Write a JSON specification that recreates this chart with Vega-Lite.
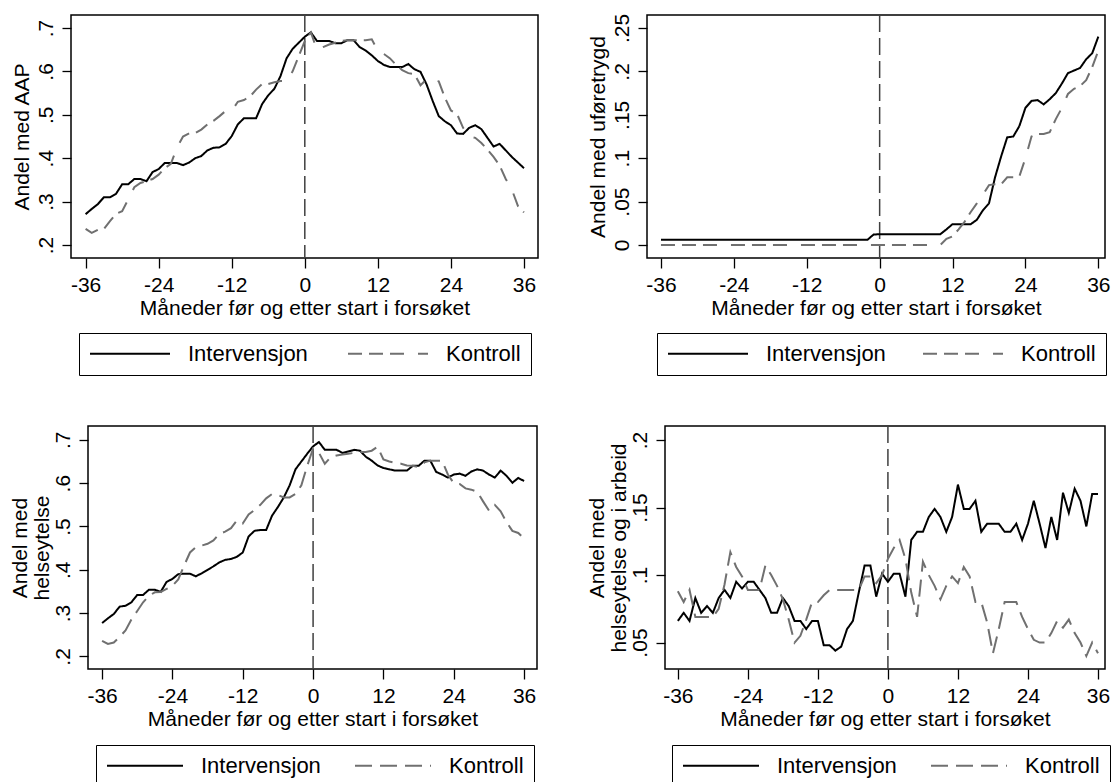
{
"$schema": "https://vega.github.io/schema/vega-lite/v6.json",
"background": "white",
"padding": {"left": 8, "top": 12, "right": 0, "bottom": 0},
"spacing": 47,
"resolve": {"scale": {"color": "independent", "strokeDash": "independent"}, "legend": {"color": "independent", "strokeDash": "independent"}},
"config": {
  "font": "Liberation Sans",
  "view": {"stroke": "black", "strokeWidth": 1.5},
  "axis": {"grid": false, "domain": false, "tickColor": "black", "tickWidth": 1.3, "labelColor": "black", "titleColor": "black", "labelFontSize": 21, "titleFontSize": 21, "titleFontWeight": "normal", "labelFont": "Liberation Sans", "titleFont": "Liberation Sans", "labelOverlap": false, "labelFlush": false},
  "axisX": {"tickSize": 10, "labelPadding": 6, "titlePadding": 2, "labelExpr": "datum.value + ''"},
  "axisY": {"tickSize": 9, "labelAngle": 270, "labelAlign": "center", "labelBaseline": "alphabetic", "labelPadding": 10, "titleAngle": 270, "titleAlign": "center", "titleBaseline": "alphabetic", "titleLineHeight": 22},
  "legend": {"orient": "none", "direction": "horizontal", "title": null, "symbolType": "stroke", "symbolSize": 6400, "symbolStrokeWidth": 2, "labelFontSize": 22, "labelFont": "Liberation Sans", "labelColor": "black", "labelOffset": 17, "columnPadding": 39, "padding": 10, "clipHeight": 21, "strokeColor": "black"}
},
"datasets": {
  "p1": [
{"m":-36,"Intervensjon":0.271,"Kontroll":0.237},{"m":-35,"Intervensjon":0.283,"Kontroll":0.228},{"m":-34,"Intervensjon":0.294,"Kontroll":0.235},{"m":-33,"Intervensjon":0.31,"Kontroll":0.237},{"m":-32,"Intervensjon":0.31,"Kontroll":0.255},{"m":-31,"Intervensjon":0.318,"Kontroll":0.272},{"m":-30,"Intervensjon":0.34,"Kontroll":0.278},{"m":-29,"Intervensjon":0.34,"Kontroll":0.305},{"m":-28,"Intervensjon":0.352,"Kontroll":0.333},{"m":-27,"Intervensjon":0.352,"Kontroll":0.343},{"m":-26,"Intervensjon":0.347,"Kontroll":0.347},{"m":-25,"Intervensjon":0.368,"Kontroll":0.352},{"m":-24,"Intervensjon":0.375,"Kontroll":0.362},{"m":-23,"Intervensjon":0.389,"Kontroll":0.377},{"m":-22,"Intervensjon":0.389,"Kontroll":0.387},{"m":-21,"Intervensjon":0.389,"Kontroll":0.424},{"m":-20,"Intervensjon":0.384,"Kontroll":0.45},{"m":-19,"Intervensjon":0.39,"Kontroll":0.457},{"m":-18,"Intervensjon":0.4,"Kontroll":0.458},{"m":-17,"Intervensjon":0.405,"Kontroll":0.466},{"m":-16,"Intervensjon":0.418,"Kontroll":0.478},{"m":-15,"Intervensjon":0.424,"Kontroll":0.486},{"m":-14,"Intervensjon":0.425,"Kontroll":0.497},{"m":-13,"Intervensjon":0.433,"Kontroll":0.509},{"m":-12,"Intervensjon":0.451,"Kontroll":0.509},{"m":-11,"Intervensjon":0.478,"Kontroll":0.53},{"m":-10,"Intervensjon":0.492,"Kontroll":0.534},{"m":-9,"Intervensjon":0.492,"Kontroll":0.542},{"m":-8,"Intervensjon":0.492,"Kontroll":0.558},{"m":-7,"Intervensjon":0.525,"Kontroll":0.571},{"m":-6,"Intervensjon":0.545,"Kontroll":0.571},{"m":-5,"Intervensjon":0.56,"Kontroll":0.575},{"m":-4,"Intervensjon":0.589,"Kontroll":0.578},{"m":-3,"Intervensjon":0.63,"Kontroll":0.578},{"m":-2,"Intervensjon":0.652,"Kontroll":0.6},{"m":-1,"Intervensjon":0.666,"Kontroll":0.635},{"m":0,"Intervensjon":0.68,"Kontroll":0.67},{"m":1,"Intervensjon":0.69,"Kontroll":0.69},{"m":2,"Intervensjon":0.67,"Kontroll":0.65},{"m":3,"Intervensjon":0.67,"Kontroll":0.656},{"m":4,"Intervensjon":0.67,"Kontroll":0.662},{"m":5,"Intervensjon":0.665,"Kontroll":0.666},{"m":6,"Intervensjon":0.665,"Kontroll":0.67},{"m":7,"Intervensjon":0.672,"Kontroll":0.672},{"m":8,"Intervensjon":0.672,"Kontroll":0.672},{"m":9,"Intervensjon":0.656,"Kontroll":0.672},{"m":10,"Intervensjon":0.648,"Kontroll":0.672},{"m":11,"Intervensjon":0.637,"Kontroll":0.674},{"m":12,"Intervensjon":0.624,"Kontroll":0.647},{"m":13,"Intervensjon":0.615,"Kontroll":0.64},{"m":14,"Intervensjon":0.61,"Kontroll":0.63},{"m":15,"Intervensjon":0.61,"Kontroll":0.615},{"m":16,"Intervensjon":0.61,"Kontroll":0.603},{"m":17,"Intervensjon":0.617,"Kontroll":0.596},{"m":18,"Intervensjon":0.605,"Kontroll":0.594},{"m":19,"Intervensjon":0.599,"Kontroll":0.568},{"m":20,"Intervensjon":0.57,"Kontroll":0.582},{"m":21,"Intervensjon":0.532,"Kontroll":0.58},{"m":22,"Intervensjon":0.497,"Kontroll":0.577},{"m":23,"Intervensjon":0.485,"Kontroll":0.54},{"m":24,"Intervensjon":0.476,"Kontroll":0.51},{"m":25,"Intervensjon":0.457,"Kontroll":0.502},{"m":26,"Intervensjon":0.456,"Kontroll":0.47},{"m":27,"Intervensjon":0.47,"Kontroll":0.45},{"m":28,"Intervensjon":0.476,"Kontroll":0.447},{"m":29,"Intervensjon":0.467,"Kontroll":0.435},{"m":30,"Intervensjon":0.447,"Kontroll":0.42},{"m":31,"Intervensjon":0.427,"Kontroll":0.403},{"m":32,"Intervensjon":0.433,"Kontroll":0.383},{"m":33,"Intervensjon":0.418,"Kontroll":0.352},{"m":34,"Intervensjon":0.403,"Kontroll":0.328},{"m":35,"Intervensjon":0.39,"Kontroll":0.29},{"m":36,"Intervensjon":0.377,"Kontroll":0.275}
  ],
  "p2": [
{"m":-36,"Intervensjon":0.006,"Kontroll":0},{"m":-35,"Intervensjon":0.006,"Kontroll":0},{"m":-34,"Intervensjon":0.006,"Kontroll":0},{"m":-33,"Intervensjon":0.006,"Kontroll":0},{"m":-32,"Intervensjon":0.006,"Kontroll":0},{"m":-31,"Intervensjon":0.006,"Kontroll":0},{"m":-30,"Intervensjon":0.006,"Kontroll":0},{"m":-29,"Intervensjon":0.006,"Kontroll":0},{"m":-28,"Intervensjon":0.006,"Kontroll":0},{"m":-27,"Intervensjon":0.006,"Kontroll":0},{"m":-26,"Intervensjon":0.006,"Kontroll":0},{"m":-25,"Intervensjon":0.006,"Kontroll":0},{"m":-24,"Intervensjon":0.006,"Kontroll":0},{"m":-23,"Intervensjon":0.006,"Kontroll":0},{"m":-22,"Intervensjon":0.006,"Kontroll":0},{"m":-21,"Intervensjon":0.006,"Kontroll":0},{"m":-20,"Intervensjon":0.006,"Kontroll":0},{"m":-19,"Intervensjon":0.006,"Kontroll":0},{"m":-18,"Intervensjon":0.006,"Kontroll":0},{"m":-17,"Intervensjon":0.006,"Kontroll":0},{"m":-16,"Intervensjon":0.006,"Kontroll":0},{"m":-15,"Intervensjon":0.006,"Kontroll":0},{"m":-14,"Intervensjon":0.006,"Kontroll":0},{"m":-13,"Intervensjon":0.006,"Kontroll":0},{"m":-12,"Intervensjon":0.006,"Kontroll":0},{"m":-11,"Intervensjon":0.006,"Kontroll":0},{"m":-10,"Intervensjon":0.006,"Kontroll":0},{"m":-9,"Intervensjon":0.006,"Kontroll":0},{"m":-8,"Intervensjon":0.006,"Kontroll":0},{"m":-7,"Intervensjon":0.006,"Kontroll":0},{"m":-6,"Intervensjon":0.006,"Kontroll":0},{"m":-5,"Intervensjon":0.006,"Kontroll":0},{"m":-4,"Intervensjon":0.006,"Kontroll":0},{"m":-3,"Intervensjon":0.006,"Kontroll":0},{"m":-2,"Intervensjon":0.006,"Kontroll":0},{"m":-1,"Intervensjon":0.012,"Kontroll":0},{"m":0,"Intervensjon":0.0125,"Kontroll":0},{"m":1,"Intervensjon":0.0125,"Kontroll":0},{"m":2,"Intervensjon":0.0125,"Kontroll":0},{"m":3,"Intervensjon":0.0125,"Kontroll":0},{"m":4,"Intervensjon":0.0125,"Kontroll":0},{"m":5,"Intervensjon":0.0125,"Kontroll":0},{"m":6,"Intervensjon":0.0125,"Kontroll":0},{"m":7,"Intervensjon":0.0125,"Kontroll":0},{"m":8,"Intervensjon":0.0125,"Kontroll":0},{"m":9,"Intervensjon":0.0125,"Kontroll":0},{"m":10,"Intervensjon":0.0125,"Kontroll":0},{"m":11,"Intervensjon":0.018,"Kontroll":0.007},{"m":12,"Intervensjon":0.024,"Kontroll":0.01},{"m":13,"Intervensjon":0.024,"Kontroll":0.018},{"m":14,"Intervensjon":0.024,"Kontroll":0.027},{"m":15,"Intervensjon":0.024,"Kontroll":0.038},{"m":16,"Intervensjon":0.029,"Kontroll":0.048},{"m":17,"Intervensjon":0.04,"Kontroll":0.058},{"m":18,"Intervensjon":0.048,"Kontroll":0.069},{"m":19,"Intervensjon":0.078,"Kontroll":0.07},{"m":20,"Intervensjon":0.102,"Kontroll":0.07},{"m":21,"Intervensjon":0.124,"Kontroll":0.078},{"m":22,"Intervensjon":0.125,"Kontroll":0.078},{"m":23,"Intervensjon":0.137,"Kontroll":0.079},{"m":24,"Intervensjon":0.158,"Kontroll":0.1},{"m":25,"Intervensjon":0.166,"Kontroll":0.125},{"m":26,"Intervensjon":0.167,"Kontroll":0.128},{"m":27,"Intervensjon":0.162,"Kontroll":0.128},{"m":28,"Intervensjon":0.168,"Kontroll":0.13},{"m":29,"Intervensjon":0.175,"Kontroll":0.145},{"m":30,"Intervensjon":0.186,"Kontroll":0.158},{"m":31,"Intervensjon":0.198,"Kontroll":0.174},{"m":32,"Intervensjon":0.201,"Kontroll":0.18},{"m":33,"Intervensjon":0.204,"Kontroll":0.183},{"m":34,"Intervensjon":0.214,"Kontroll":0.19},{"m":35,"Intervensjon":0.221,"Kontroll":0.205},{"m":36,"Intervensjon":0.24,"Kontroll":0.224}
  ],
  "p3": [
{"m":-36,"Intervensjon":0.277,"Kontroll":0.236},{"m":-35,"Intervensjon":0.288,"Kontroll":0.229},{"m":-34,"Intervensjon":0.298,"Kontroll":0.232},{"m":-33,"Intervensjon":0.315,"Kontroll":0.245},{"m":-32,"Intervensjon":0.317,"Kontroll":0.26},{"m":-31,"Intervensjon":0.325,"Kontroll":0.285},{"m":-30,"Intervensjon":0.342,"Kontroll":0.305},{"m":-29,"Intervensjon":0.342,"Kontroll":0.325},{"m":-28,"Intervensjon":0.354,"Kontroll":0.34},{"m":-27,"Intervensjon":0.354,"Kontroll":0.348},{"m":-26,"Intervensjon":0.349,"Kontroll":0.349},{"m":-25,"Intervensjon":0.372,"Kontroll":0.356},{"m":-24,"Intervensjon":0.379,"Kontroll":0.363},{"m":-23,"Intervensjon":0.39,"Kontroll":0.378},{"m":-22,"Intervensjon":0.391,"Kontroll":0.41},{"m":-21,"Intervensjon":0.391,"Kontroll":0.44},{"m":-20,"Intervensjon":0.385,"Kontroll":0.452},{"m":-19,"Intervensjon":0.392,"Kontroll":0.456},{"m":-18,"Intervensjon":0.4,"Kontroll":0.46},{"m":-17,"Intervensjon":0.408,"Kontroll":0.468},{"m":-16,"Intervensjon":0.417,"Kontroll":0.483},{"m":-15,"Intervensjon":0.423,"Kontroll":0.488},{"m":-14,"Intervensjon":0.425,"Kontroll":0.496},{"m":-13,"Intervensjon":0.43,"Kontroll":0.514},{"m":-12,"Intervensjon":0.44,"Kontroll":0.507},{"m":-11,"Intervensjon":0.477,"Kontroll":0.528},{"m":-10,"Intervensjon":0.49,"Kontroll":0.538},{"m":-9,"Intervensjon":0.492,"Kontroll":0.55},{"m":-8,"Intervensjon":0.492,"Kontroll":0.565},{"m":-7,"Intervensjon":0.525,"Kontroll":0.575},{"m":-6,"Intervensjon":0.545,"Kontroll":0.573},{"m":-5,"Intervensjon":0.567,"Kontroll":0.567},{"m":-4,"Intervensjon":0.595,"Kontroll":0.567},{"m":-3,"Intervensjon":0.632,"Kontroll":0.575},{"m":-2,"Intervensjon":0.65,"Kontroll":0.595},{"m":-1,"Intervensjon":0.668,"Kontroll":0.64},{"m":0,"Intervensjon":0.685,"Kontroll":0.68},{"m":1,"Intervensjon":0.695,"Kontroll":0.67},{"m":2,"Intervensjon":0.677,"Kontroll":0.645},{"m":3,"Intervensjon":0.677,"Kontroll":0.66},{"m":4,"Intervensjon":0.677,"Kontroll":0.664},{"m":5,"Intervensjon":0.67,"Kontroll":0.666},{"m":6,"Intervensjon":0.673,"Kontroll":0.668},{"m":7,"Intervensjon":0.677,"Kontroll":0.67},{"m":8,"Intervensjon":0.675,"Kontroll":0.672},{"m":9,"Intervensjon":0.661,"Kontroll":0.672},{"m":10,"Intervensjon":0.652,"Kontroll":0.675},{"m":11,"Intervensjon":0.641,"Kontroll":0.684},{"m":12,"Intervensjon":0.635,"Kontroll":0.655},{"m":13,"Intervensjon":0.632,"Kontroll":0.65},{"m":14,"Intervensjon":0.629,"Kontroll":0.647},{"m":15,"Intervensjon":0.629,"Kontroll":0.645},{"m":16,"Intervensjon":0.629,"Kontroll":0.641},{"m":17,"Intervensjon":0.64,"Kontroll":0.64},{"m":18,"Intervensjon":0.64,"Kontroll":0.637},{"m":19,"Intervensjon":0.652,"Kontroll":0.648},{"m":20,"Intervensjon":0.652,"Kontroll":0.652},{"m":21,"Intervensjon":0.626,"Kontroll":0.652},{"m":22,"Intervensjon":0.62,"Kontroll":0.652},{"m":23,"Intervensjon":0.613,"Kontroll":0.62},{"m":24,"Intervensjon":0.62,"Kontroll":0.6},{"m":25,"Intervensjon":0.622,"Kontroll":0.598},{"m":26,"Intervensjon":0.617,"Kontroll":0.588},{"m":27,"Intervensjon":0.627,"Kontroll":0.585},{"m":28,"Intervensjon":0.632,"Kontroll":0.58},{"m":29,"Intervensjon":0.629,"Kontroll":0.558},{"m":30,"Intervensjon":0.62,"Kontroll":0.537},{"m":31,"Intervensjon":0.613,"Kontroll":0.55},{"m":32,"Intervensjon":0.629,"Kontroll":0.535},{"m":33,"Intervensjon":0.617,"Kontroll":0.51},{"m":34,"Intervensjon":0.601,"Kontroll":0.49},{"m":35,"Intervensjon":0.612,"Kontroll":0.485},{"m":36,"Intervensjon":0.605,"Kontroll":0.472}
  ],
  "p4": [
{"m":-36,"Intervensjon":0.066,"Kontroll":0.088},{"m":-35,"Intervensjon":0.072,"Kontroll":0.08},{"m":-34,"Intervensjon":0.066,"Kontroll":0.089},{"m":-33,"Intervensjon":0.083,"Kontroll":0.069},{"m":-32,"Intervensjon":0.072,"Kontroll":0.069},{"m":-31,"Intervensjon":0.077,"Kontroll":0.069},{"m":-30,"Intervensjon":0.072,"Kontroll":0.069},{"m":-29,"Intervensjon":0.083,"Kontroll":0.075},{"m":-28,"Intervensjon":0.089,"Kontroll":0.093},{"m":-27,"Intervensjon":0.083,"Kontroll":0.117},{"m":-26,"Intervensjon":0.095,"Kontroll":0.106},{"m":-25,"Intervensjon":0.09,"Kontroll":0.099},{"m":-24,"Intervensjon":0.095,"Kontroll":0.089},{"m":-23,"Intervensjon":0.095,"Kontroll":0.089},{"m":-22,"Intervensjon":0.089,"Kontroll":0.089},{"m":-21,"Intervensjon":0.083,"Kontroll":0.107},{"m":-20,"Intervensjon":0.072,"Kontroll":0.1},{"m":-19,"Intervensjon":0.072,"Kontroll":0.092},{"m":-18,"Intervensjon":0.083,"Kontroll":0.082},{"m":-17,"Intervensjon":0.077,"Kontroll":0.067},{"m":-16,"Intervensjon":0.066,"Kontroll":0.05},{"m":-15,"Intervensjon":0.066,"Kontroll":0.055},{"m":-14,"Intervensjon":0.06,"Kontroll":0.067},{"m":-13,"Intervensjon":0.066,"Kontroll":0.08},{"m":-12,"Intervensjon":0.066,"Kontroll":0.08},{"m":-11,"Intervensjon":0.048,"Kontroll":0.085},{"m":-10,"Intervensjon":0.048,"Kontroll":0.089},{"m":-9,"Intervensjon":0.044,"Kontroll":0.089},{"m":-8,"Intervensjon":0.047,"Kontroll":0.089},{"m":-7,"Intervensjon":0.06,"Kontroll":0.089},{"m":-6,"Intervensjon":0.066,"Kontroll":0.089},{"m":-5,"Intervensjon":0.087,"Kontroll":0.089},{"m":-4,"Intervensjon":0.107,"Kontroll":0.099},{"m":-3,"Intervensjon":0.107,"Kontroll":0.099},{"m":-2,"Intervensjon":0.084,"Kontroll":0.094},{"m":-1,"Intervensjon":0.101,"Kontroll":0.1},{"m":0,"Intervensjon":0.095,"Kontroll":0.112},{"m":1,"Intervensjon":0.101,"Kontroll":0.12},{"m":2,"Intervensjon":0.101,"Kontroll":0.126},{"m":3,"Intervensjon":0.084,"Kontroll":0.112},{"m":4,"Intervensjon":0.126,"Kontroll":0.087},{"m":5,"Intervensjon":0.132,"Kontroll":0.069},{"m":6,"Intervensjon":0.132,"Kontroll":0.11},{"m":7,"Intervensjon":0.143,"Kontroll":0.1},{"m":8,"Intervensjon":0.149,"Kontroll":0.092},{"m":9,"Intervensjon":0.143,"Kontroll":0.082},{"m":10,"Intervensjon":0.132,"Kontroll":0.092},{"m":11,"Intervensjon":0.143,"Kontroll":0.099},{"m":12,"Intervensjon":0.167,"Kontroll":0.094},{"m":13,"Intervensjon":0.149,"Kontroll":0.106},{"m":14,"Intervensjon":0.149,"Kontroll":0.099},{"m":15,"Intervensjon":0.155,"Kontroll":0.08},{"m":16,"Intervensjon":0.132,"Kontroll":0.08},{"m":17,"Intervensjon":0.138,"Kontroll":0.065},{"m":18,"Intervensjon":0.138,"Kontroll":0.042},{"m":19,"Intervensjon":0.138,"Kontroll":0.06},{"m":20,"Intervensjon":0.132,"Kontroll":0.08},{"m":21,"Intervensjon":0.132,"Kontroll":0.08},{"m":22,"Intervensjon":0.138,"Kontroll":0.08},{"m":23,"Intervensjon":0.126,"Kontroll":0.069},{"m":24,"Intervensjon":0.138,"Kontroll":0.06},{"m":25,"Intervensjon":0.155,"Kontroll":0.052},{"m":26,"Intervensjon":0.138,"Kontroll":0.05},{"m":27,"Intervensjon":0.12,"Kontroll":0.05},{"m":28,"Intervensjon":0.143,"Kontroll":0.057},{"m":29,"Intervensjon":0.126,"Kontroll":0.066},{"m":30,"Intervensjon":0.161,"Kontroll":0.061},{"m":31,"Intervensjon":0.146,"Kontroll":0.067},{"m":32,"Intervensjon":0.164,"Kontroll":0.057},{"m":33,"Intervensjon":0.155,"Kontroll":0.05},{"m":34,"Intervensjon":0.136,"Kontroll":0.04},{"m":35,"Intervensjon":0.16,"Kontroll":0.05},{"m":36,"Intervensjon":0.16,"Kontroll":0.042}
  ]
},
"vconcat": [
  {"bounds": "flush", "spacing": 109,
   "resolve": {"scale": {"color": "independent", "strokeDash": "independent"}, "legend": {"color": "independent", "strokeDash": "independent"}},
   "hconcat": [
    {"width": 467, "height": 243, "layer": [
      {"data": {"values": [{"m": 0}]}, "mark": {"type": "rule", "color": "#404040", "strokeDash": [17, 6], "strokeWidth": 1.5}, "encoding": {"x": {"field": "m", "type": "quantitative"}}},
      {"data": {"name": "p1"}, "transform": [{"fold": ["Intervensjon", "Kontroll"], "as": ["g", "v"]}],
       "mark": {"type": "line", "strokeWidth": 2},
       "encoding": {
         "x": {"field": "m", "type": "quantitative", "scale": {"domain": [-38.4, 38.3], "nice": false, "zero": false}, "axis": {"values": [-36, -24, -12, 0, 12, 24, 36], "title": "Måneder før og etter start i forsøket"}},
         "y": {"field": "v", "type": "quantitative", "scale": {"domain": [0.17, 0.73], "nice": false, "zero": false}, "axis": {"values": [0.2, 0.3, 0.4, 0.5, 0.6, 0.7], "labelExpr": "datum.value == 0 ? '0' : slice(format(datum.value, '.2~f'), 1)", "title": "Andel med AAP", "titleX": -43, "titleY": 121.5}},
         "color": {"field": "g", "type": "nominal", "scale": {"domain": ["Intervensjon", "Kontroll"], "range": ["black", "#707070"]}, "legend": {"legendX": 8, "legendY": 318}},
         "strokeDash": {"field": "g", "type": "nominal", "scale": {"domain": ["Intervensjon", "Kontroll"], "range": [[1, 0], [14, 7, 14, 7, 14, 14]]}, "legend": {"legendX": 8, "legendY": 318}}
       }}
    ]},
    {"width": 458, "height": 243, "layer": [
      {"data": {"values": [{"m": 0}]}, "mark": {"type": "rule", "color": "#404040", "strokeDash": [17, 6], "strokeWidth": 1.5}, "encoding": {"x": {"field": "m", "type": "quantitative"}}},
      {"data": {"name": "p2"}, "transform": [{"fold": ["Intervensjon", "Kontroll"], "as": ["g", "v"]}],
       "mark": {"type": "line", "strokeWidth": 2},
       "encoding": {
         "x": {"field": "m", "type": "quantitative", "scale": {"domain": [-38.3, 37.1], "nice": false, "zero": false}, "axis": {"values": [-36, -24, -12, 0, 12, 24, 36], "title": "Måneder før og etter start i forsøket"}},
         "y": {"field": "v", "type": "quantitative", "scale": {"domain": [-0.015, 0.265], "nice": false, "zero": false}, "axis": {"values": [0, 0.05, 0.1, 0.15, 0.2, 0.25], "labelExpr": "datum.value == 0 ? '0' : slice(format(datum.value, '.2~f'), 1)", "title": "Andel med uføretrygd", "titleX": -43, "titleY": 121.5}},
         "color": {"field": "g", "type": "nominal", "scale": {"domain": ["Intervensjon", "Kontroll"], "range": ["black", "#707070"]}, "legend": {"legendX": 10, "legendY": 318, "columnPadding": 36}},
         "strokeDash": {"field": "g", "type": "nominal", "scale": {"domain": ["Intervensjon", "Kontroll"], "range": [[1, 0], [14, 7, 14, 7, 14, 14]]}, "legend": {"legendX": 10, "legendY": 318, "columnPadding": 36}}
       }}
    ]}
  ]},
  {"bounds": "flush", "spacing": 16,
   "resolve": {"scale": {"color": "independent", "strokeDash": "independent"}, "legend": {"color": "independent", "strokeDash": "independent"}},
   "hconcat": [
    {"width": 1, "height": 1, "data": {"values": []}, "mark": {"type": "point", "opacity": 0}, "view": {"stroke": null}},
    {"bounds": "flush", "spacing": 128,
     "resolve": {"scale": {"color": "independent", "strokeDash": "independent"}, "legend": {"color": "independent", "strokeDash": "independent"}},
     "hconcat": [
      {"width": 449, "height": 243, "layer": [
        {"data": {"values": [{"m": 0}]}, "mark": {"type": "rule", "color": "#404040", "strokeDash": [17, 6], "strokeWidth": 1.5}, "encoding": {"x": {"field": "m", "type": "quantitative"}}},
        {"data": {"name": "p3"}, "transform": [{"fold": ["Intervensjon", "Kontroll"], "as": ["g", "v"]}],
         "mark": {"type": "line", "strokeWidth": 2},
         "encoding": {
           "x": {"field": "m", "type": "quantitative", "scale": {"domain": [-38.4, 38.2], "nice": false, "zero": false}, "axis": {"values": [-36, -24, -12, 0, 12, 24, 36], "title": "Måneder før og etter start i forsøket"}},
           "y": {"field": "v", "type": "quantitative", "scale": {"domain": [0.171, 0.732], "nice": false, "zero": false}, "axis": {"values": [0.2, 0.3, 0.4, 0.5, 0.6, 0.7], "labelExpr": "datum.value == 0 ? '0' : slice(format(datum.value, '.2~f'), 1)", "title": ["Andel med", "helseytelse"], "titleX": -62, "titleY": 121.5}},
           "color": {"field": "g", "type": "nominal", "scale": {"domain": ["Intervensjon", "Kontroll"], "range": ["black", "#707070"]}, "legend": {"legendX": 8, "legendY": 319, "symbolSize": 5776, "columnPadding": 33}},
           "strokeDash": {"field": "g", "type": "nominal", "scale": {"domain": ["Intervensjon", "Kontroll"], "range": [[1, 0], [17, 8]]}, "legend": {"legendX": 8, "legendY": 319, "symbolSize": 5776, "columnPadding": 33}}
         }}
      ]},
      {"width": 440, "height": 243, "layer": [
        {"data": {"values": [{"m": 0}]}, "mark": {"type": "rule", "color": "#404040", "strokeDash": [17, 6], "strokeWidth": 1.5}, "encoding": {"x": {"field": "m", "type": "quantitative"}}},
        {"data": {"name": "p4"}, "transform": [{"fold": ["Intervensjon", "Kontroll"], "as": ["g", "v"]}],
         "mark": {"type": "line", "strokeWidth": 2},
         "encoding": {
           "x": {"field": "m", "type": "quantitative", "scale": {"domain": [-38.2, 37.2], "nice": false, "zero": false}, "axis": {"values": [-36, -24, -12, 0, 12, 24, 36], "title": "Måneder før og etter start i forsøket"}},
           "y": {"field": "v", "type": "quantitative", "scale": {"domain": [0.0304, 0.2104], "nice": false, "zero": false}, "axis": {"values": [0.05, 0.1, 0.15, 0.2], "labelExpr": "datum.value == 0 ? '0' : slice(format(datum.value, '.2~f'), 1)", "title": ["Andel med", "helseytelse og i arbeid"], "titleX": -62, "titleY": 121.5}},
           "color": {"field": "g", "type": "nominal", "scale": {"domain": ["Intervensjon", "Kontroll"], "range": ["black", "#707070"]}, "legend": {"legendX": 7, "legendY": 319, "symbolSize": 5776, "columnPadding": 33}},
           "strokeDash": {"field": "g", "type": "nominal", "scale": {"domain": ["Intervensjon", "Kontroll"], "range": [[1, 0], [17, 8]]}, "legend": {"legendX": 7, "legendY": 319, "symbolSize": 5776, "columnPadding": 33}}
         }}
      ]}
    ]}
  ]}
]
}
